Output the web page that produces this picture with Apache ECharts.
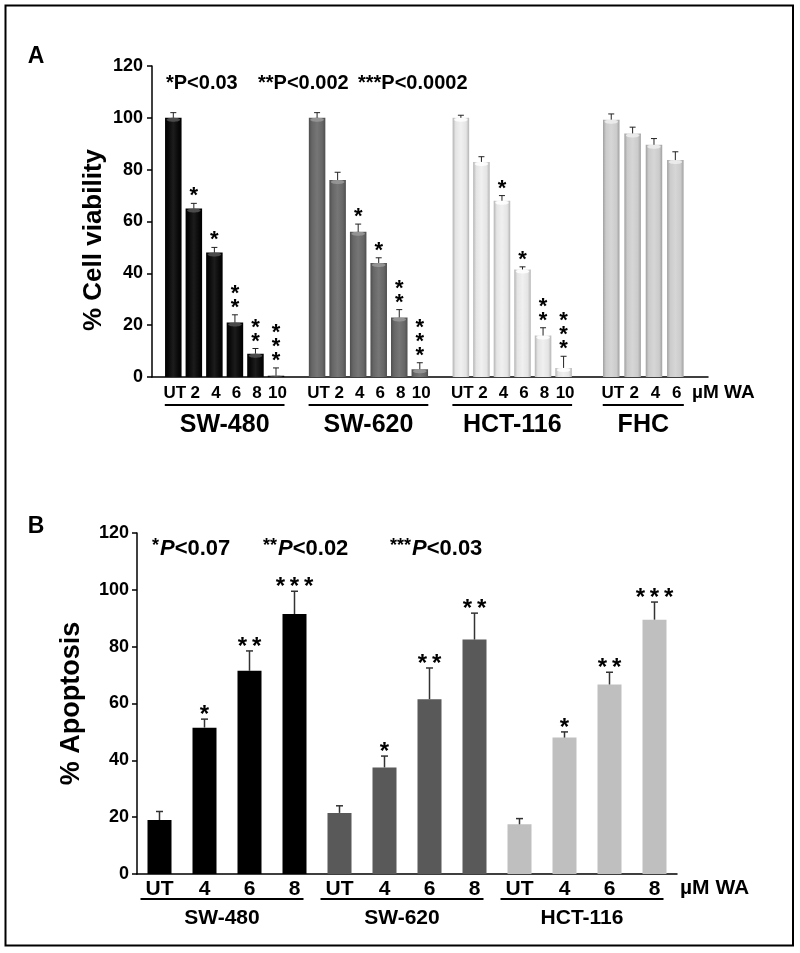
<!DOCTYPE html>
<html><head><meta charset="utf-8">
<script src="https://cdn.jsdelivr.net/npm/echarts@6/dist/echarts.min.js"></script>
<style>html,body{margin:0;padding:0;background:#fff}#c{width:800px;height:953px}</style>
</head><body><div id="c"></div>
<script>
// ---------- Panel A data: % cell viability ----------
const cellLinesA = ['SW-480', 'SW-620', 'HCT-116', 'FHC'];
const dosesA = [
  ['UT', '2', '4', '6', '8', '10'],
  ['UT', '2', '4', '6', '8', '10'],
  ['UT', '2', '4', '6', '8', '10'],
  ['UT', '2', '4', '6']
];
const viabSW480 = [100, 65, 48, 21, 9, 0.5];
const errViabSW480 = [2, 2, 2, 3, 2, 3];
const starViabSW480 = ['', '*', '*', '**', '**', '***'];
const viabSW620 = [100, 76, 56, 44, 23, 3];
const errViabSW620 = [2, 3, 3, 2, 3, 2.5];
const starViabSW620 = ['', '', '*', '*', '**', '***'];
const viabHCT116 = [100, 83, 68, 41.5, 16, 3.5];
const errViabHCT116 = [1, 2, 2, 1, 3, 4.5];
const starViabHCT116 = ['', '', '*', '*', '**', '***'];
const viabFHC = [99.3, 94, 89.6, 83.7];
const errViabFHC = [2.2, 2.4, 2.4, 3.2];
const starViabFHC = ['', '', '', ''];
const yTicksA = {min: 0, max: 120, interval: 20};
const pNoteA = ['*P<0.03', '**P<0.002', '***P<0.0002'];

// ---------- Panel B data: % apoptosis ----------
const cellLinesB = ['SW-480', 'SW-620', 'HCT-116'];
const dosesB = ['UT', '4', '6', '8'];
const apoSW480 = [19, 51.5, 71.5, 91.5];
const errApoSW480 = [3, 3, 7, 8];
const starApoSW480 = ['', '*', '**', '***'];
const apoSW620 = [21.5, 37.5, 61.5, 82.5];
const errApoSW620 = [2.5, 4, 11, 9.3];
const starApoSW620 = ['', '*', '**', '**'];
const apoHCT116 = [17.5, 48, 66.7, 89.5];
const errApoHCT116 = [2, 2, 4.3, 6.2];
const starApoHCT116 = ['', '*', '**', '***'];
const yTicksB = {min: 0, max: 120, interval: 20};
const pNoteB = [['*', '<0.07'], ['**', '<0.02'], ['***', '<0.03']];
const unitLabel = 'µM WA';

// ---------- layout / style ----------
const FONT = "'Liberation Sans', Arial, sans-serif";
const groupStartA = [0, 7, 14, 21.32];
const groupPitchA = [1, 1, 1, 1.04];
function shade(edge, mid, light) {
  return {type: 'linear', x: 0, y: 0, x2: 1, y2: 0, colorStops: [
    {offset: 0, color: edge}, {offset: 0.18, color: mid}, {offset: 0.5, color: light},
    {offset: 0.82, color: mid}, {offset: 1, color: edge}]};
}
const colorsA = [
  shade('#000', '#080808', '#1c1c1c'),
  shade('#4e4e4e', '#666', '#767676'),
  shade('#b4b4b4', '#e4e4e4', '#f0f0f0'),
  shade('#a0a0a0', '#cbcbcb', '#d6d6d6')
];
const capColorsA = ['#555', '#9a9a9a', '#ffffff', '#eeeeee'];
const colorsB = ['#000000', '#595959', '#bfbfbf'];

const viabA = [viabSW480, viabSW620, viabHCT116, viabFHC];
const errA = [errViabSW480, errViabSW620, errViabHCT116, errViabFHC];
const starA = [starViabSW480, starViabSW620, starViabHCT116, starViabFHC];
const apoB = [apoSW480, apoSW620, apoHCT116];
const errB = [errApoSW480, errApoSW620, errApoHCT116];
const starB = [starApoSW480, starApoSW620, starApoHCT116];

// build panel A bar + error data
const barA = [], errDataA = [], starListA = [], capListA = [], posA = [];
viabA.forEach((vals, g) => {
  posA.push([]);
  vals.forEach((v, i) => {
    const x = groupStartA[g] + i * groupPitchA[g];
    posA[g].push(x);
    barA.push({value: [x, v], itemStyle: {color: colorsA[g]}});
    errDataA.push([x, v, errA[g][i]]);
    starListA.push(starA[g][i]);
    capListA.push(capColorsA[g]);
  });
});
// panel B
const catsB = [], barB = [], errDataB = [], starListB = [];
apoB.forEach((vals, g) => {
  vals.forEach((v, i) => {
    const idx = catsB.length;
    catsB.push(dosesB[i]);
    barB.push({value: v, itemStyle: {color: colorsB[g]}});
    errDataB.push([idx, v, errB[g][i]]);
    starListB.push(starB[g][i]);
  });
});

function errRender(stars, opt) {
  return function (params, api) {
    const x = api.value(0), y = api.value(1), e = api.value(2);
    const p0 = api.coord([x, y]);
    const p1 = api.coord([x, y + e]);
    const st = {stroke: opt.color, lineWidth: opt.lw};
    const ch = [];
    if (opt.caps) {
      const base = api.coord([x, 0])[1];
      const h = Math.min(4, base - p0[1]);
      ch.push({type: 'ellipse', shape: {cx: p0[0], cy: p0[1] + h / 2, rx: opt.barHalf - 1.5, ry: h / 2},
        style: {fill: opt.caps[params.dataIndex], opacity: 0.85}});
    }
    ch.push(
      {type: 'line', shape: {x1: p0[0], y1: p0[1], x2: p1[0], y2: p1[1]}, style: st},
      {type: 'line', shape: {x1: p1[0] - opt.cap, y1: p1[1], x2: p1[0] + opt.cap, y2: p1[1]}, style: st}
    );
    const s = stars[params.dataIndex];
    if (s) {
      const txt = opt.vertical ? s.split('').join('\n') : s.split('').join('\u2009');
      ch.push({type: 'text', x: p1[0], y: p1[1] + opt.dy,
        style: {text: txt, fill: '#000', font: opt.font, align: 'center',
          verticalAlign: 'bottom', lineHeight: opt.lh}});
    }
    return {type: 'group', children: ch};
  };
}

const axisLineStyle = {color: '#000', width: 1.5};
const chart = echarts.init(document.getElementById('c'), null, {renderer: 'canvas'});
const option = {
  animation: false,
  backgroundColor: '#fff',
  grid: [
    {left: 152, top: 66, width: 556, height: 311},
    {left: 137, top: 533, width: 540, height: 341}
  ],
  xAxis: [
    {type: 'value', gridIndex: 0, min: -1.037, max: 26.03, splitLine: {show: false},
      axisLine: {onZero: false, lineStyle: axisLineStyle}, axisTick: {show: false}, axisLabel: {show: false}},
    {type: 'category', gridIndex: 1, data: catsB, axisTick: {show: false},
      axisLine: {onZero: false, lineStyle: axisLineStyle},
      axisLabel: {interval: 0, color: '#000', fontFamily: FONT, fontWeight: 'bold', fontSize: 21, margin: 5}}
  ],
  yAxis: [
    {type: 'value', gridIndex: 0, min: yTicksA.min, max: yTicksA.max, interval: yTicksA.interval,
      splitLine: {show: false}, axisLine: {show: true, onZero: false, lineStyle: axisLineStyle},
      axisTick: {show: true, length: 5, lineStyle: {color: '#000', width: 1.5}},
      axisLabel: {color: '#000', fontFamily: FONT, fontWeight: 'bold', fontSize: 18, margin: 9}},
    {type: 'value', gridIndex: 1, min: yTicksB.min, max: yTicksB.max, interval: yTicksB.interval,
      splitLine: {show: false}, axisLine: {show: true, onZero: false, lineStyle: axisLineStyle},
      axisTick: {show: true, length: 5, lineStyle: {color: '#000', width: 1.5}},
      axisLabel: {color: '#000', fontFamily: FONT, fontWeight: 'bold', fontSize: 18, margin: 8},
      name: '% Apoptosis', nameLocation: 'middle', nameGap: 52,
      nameTextStyle: {color: '#000', fontFamily: FONT, fontWeight: 'bold', fontSize: 27}}
  ],
  series: [
    {type: 'bar', xAxisIndex: 0, yAxisIndex: 0, data: barA, barWidth: 16.5},
    {type: 'custom', xAxisIndex: 0, yAxisIndex: 0, data: errDataA, z: 5,
      renderItem: errRender(starListA, {color: '#222', lw: 1, cap: 3, vertical: true,
        font: 'bold 22px ' + FONT, lh: 14, dy: 0, caps: capListA, barHalf: 8.25})},
    {type: 'bar', xAxisIndex: 1, yAxisIndex: 1, data: barB, barWidth: 24},
    {type: 'custom', xAxisIndex: 1, yAxisIndex: 1, data: errDataB, z: 5,
      renderItem: errRender(starListB, {color: '#333', lw: 1.5, cap: 3.5, vertical: false,
        font: 'bold 24px ' + FONT, lh: 24, dy: 8})}
  ]
};
chart.setOption(option);

// ---------- annotations positioned via the axes ----------
const g = [];
const txt = (x, y, text, size, extra) => Object.assign({type: 'text', x: x, y: y,
  style: Object.assign({text: text, fill: '#000', font: 'bold ' + size + 'px ' + FONT,
    align: 'center', verticalAlign: 'middle'}, extra || {})});
// frame
g.push({type: 'rect', shape: {x: 5.5, y: 5.5, width: 787.5, height: 940},
  style: {fill: 'none', stroke: '#000', lineWidth: 2}});
g.push(txt(36, 57, 'A', 23));
g.push(txt(36, 527, 'B', 23));
g.push(txt(94, 240, '% Cell viability', 26, {}));
g[g.length - 1].rotation = Math.PI / 2;
// P notes A
[166, 258, 358].forEach((x, i) => g.push(txt(x, 83, pNoteA[i], 20, {align: 'left'})));
// P notes B
[152, 263, 390].forEach((x, i) => g.push({type: 'text', x: x, y: 549, style: {
  text: '{s|' + pNoteB[i][0] + '}{p|P}{n|' + pNoteB[i][1] + '}', align: 'left', verticalAlign: 'middle',
  rich: {s: {font: 'bold 18px ' + FONT, fill: '#000', padding: [0, 1, 5, 0]},
    p: {font: 'italic bold 22px ' + FONT, fill: '#000'},
    n: {font: 'bold 22px ' + FONT, fill: '#000'}}}}));
// panel A x labels, underlines, group names
const baseA = chart.convertToPixel({xAxisIndex: 0, yAxisIndex: 0}, [0, 0])[1];
posA.forEach((xs, gi) => {
  xs.forEach((x, i) => {
    const px = chart.convertToPixel({xAxisIndex: 0, yAxisIndex: 0}, [x, 0])[0];
    g.push(txt(px + 1.5, baseA + 16, dosesA[gi][i], 17));
  });
  const l = chart.convertToPixel({xAxisIndex: 0, yAxisIndex: 0}, [xs[0], 0])[0] - 8.5;
  const r = chart.convertToPixel({xAxisIndex: 0, yAxisIndex: 0}, [xs[xs.length - 1], 0])[0] + 8.5;
  g.push({type: 'line', shape: {x1: l, y1: baseA + 28, x2: r, y2: baseA + 28}, style: {stroke: '#000', lineWidth: 2}});
  g.push(txt((l + r) / 2, baseA + 48, cellLinesA[gi], 25));
});
g.push(txt(692, baseA + 16, unitLabel, 19, {align: 'left'}));
// panel B underlines, group names
const baseB = chart.convertToPixel({xAxisIndex: 1, yAxisIndex: 1}, [0, 0])[1];
cellLinesB.forEach((name, gi) => {
  const c0 = chart.convertToPixel({xAxisIndex: 1, yAxisIndex: 1}, [gi * 4, 0])[0];
  const c1 = chart.convertToPixel({xAxisIndex: 1, yAxisIndex: 1}, [gi * 4 + 3, 0])[0];
  g.push({type: 'line', shape: {x1: c0 - 19, y1: baseB + 25, x2: c1 + 9, y2: baseB + 25}, style: {stroke: '#000', lineWidth: 2}});
  g.push(txt((c0 + c1) / 2 - 5, baseB + 44, name, 21));
});
g.push(txt(680, baseB + 14, unitLabel, 21, {align: 'left'}));
chart.setOption({graphic: {elements: g}});
</script></body></html>
